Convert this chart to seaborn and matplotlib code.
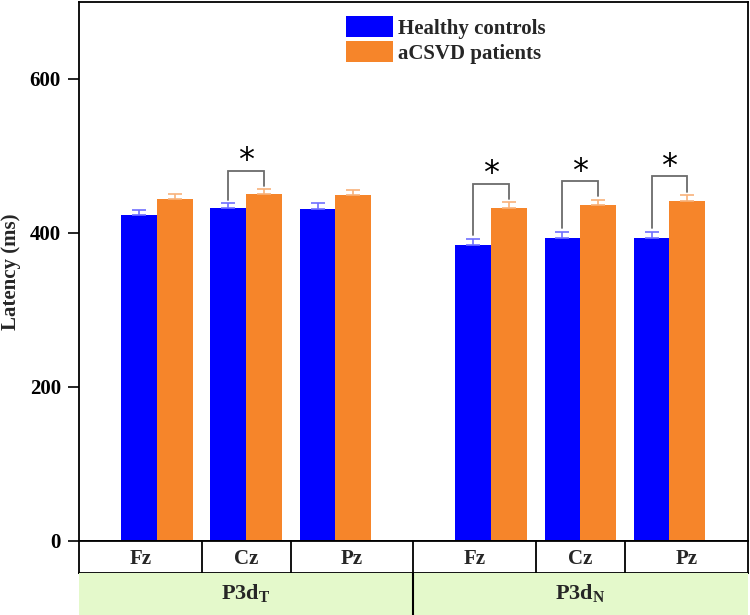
import numpy as np
import pandas as pd
import seaborn as sns
import matplotlib.pyplot as plt
from matplotlib.patches import Patch

# ---------------- data ----------------
components = ["P3d$_{\\mathrm{T}}$", "P3d$_{\\mathrm{N}}$"]
electrodes = ["Fz", "Cz", "Pz"]
groups = ["Healthy controls", "aCSVD patients"]
controls_mean = [423, 432, 431, 384, 393, 393]
controls_se = [6.5, 6.5, 7.5, 8, 8.5, 8]
patients_mean = [444, 451, 449, 432, 436, 441]
patients_se = [7, 6, 7, 8, 7.5, 8.5]
significant = [False, True, False, True, True, True]
y_ticks = [0, 200, 400, 600]

# ---------------- style ----------------
sns.set_theme(style="white")
plt.rcParams['font.family'] = ['Liberation Serif', 'DejaVu Serif']
plt.rcParams['font.weight'] = 'bold'
plt.rcParams['mathtext.fontset'] = 'custom'
plt.rcParams['mathtext.rm'] = 'Liberation Serif:bold'
plt.rcParams['mathtext.bf'] = 'Liberation Serif:bold'
plt.rcParams['mathtext.it'] = 'Liberation Serif:bold:italic'

BLUE = "#0000FF"
ORANGE = "#F6852A"
EBLUE = "#7070FF"
EORANGE = "#F8B27A"
GREEN = "#E4F9CB"

W, H = 750, 615
fig = plt.figure(figsize=(W / 100, H / 100), dpi=100)


def rect(l, t, r, b):
    return [l / W, 1 - b / H, (r - l) / W, (b - t) / H]


ax = fig.add_axes(rect(79, 2, 748, 541))
tab = fig.add_axes(rect(79, 541, 748, 573))
grn = fig.add_axes(rect(79, 573, 748, 615))

gap = 0.745
n = len(controls_mean)
pos = [i + (gap if i >= len(electrodes) else 0) for i in range(n)]

df = pd.DataFrame({
    "pos": [float(p) for p in pos] * 2,
    "latency": controls_mean + patients_mean,
    "group": [groups[0]] * n + [groups[1]] * n,
})

sns.barplot(data=df, x="pos", y="latency", hue="group", hue_order=groups,
            palette=[BLUE, ORANGE], native_scale=True, errorbar=None,
            width=0.8, linewidth=0, saturation=1, ax=ax)

xlim = (-0.874, pos[-1] + 0.881)
ax.set_xlim(*xlim)
ax.set_ylim(0, 700)

# error bars
centers = {}
for ci, (cont, se, ec) in enumerate(zip(ax.containers, [controls_se, patients_se], [EBLUE, EORANGE])):
    xs = []
    for bar, e in zip(cont, se):
        x = bar.get_x() + bar.get_width() / 2
        h = bar.get_height()
        xs.append(x)
        ax.errorbar(x, h, yerr=[[0], [e]], fmt='none', ecolor=ec,
                    elinewidth=1.2, capsize=5, capthick=1.2, zorder=3)
    centers[ci] = xs

# significance brackets
for i, sig in enumerate(significant):
    if not sig:
        continue
    xb, xo = centers[0][i], centers[1][i]
    cb = controls_mean[i] + controls_se[i]
    co = patients_mean[i] + patients_se[i]
    top = co + 24
    ax.plot([xb, xb, xo, xo], [cb + 5, top, top, co + 4], color="#6B6B6B",
            lw=1.3, zorder=4, solid_joinstyle='miter')
    ax.text((xb + xo) / 2, top + 13, "*", ha='center', va='center',
            fontsize=23, family='DejaVu Sans', fontweight='normal', color='black')

# axes styling
ax.set_xlabel("")
ax.set_xticks([])
ax.set_yticks(y_ticks)
ax.set_yticklabels([str(v) for v in y_ticks], fontsize=15, fontweight='bold')
ax.tick_params(axis='y', direction='out', length=8, width=1.2, pad=5, left=True, colors='black')
ax.set_ylabel("Latency (ms)", fontsize=15, fontweight='bold', labelpad=6)
for s in ax.spines.values():
    s.set_visible(True)
    s.set_color('black')
    s.set_linewidth(1.3)

# legend
leg = ax.get_legend()
if leg is not None:
    leg.remove()
handles = [Patch(facecolor=BLUE, edgecolor='none'), Patch(facecolor=ORANGE, edgecolor='none')]
fig.legend(handles, groups, loc='upper left', bbox_to_anchor=(346 / W, 1 - 16 / H),
           bbox_transform=fig.transFigure, frameon=False, borderpad=0, borderaxespad=0,
           handlelength=2.25, handleheight=1.2, handletextpad=0.25, labelspacing=0.1,
           prop={'family': 'Liberation Serif', 'weight': 'bold', 'size': 15})

# table row of electrodes
tab.set_xlim(*xlim)
tab.set_ylim(0, 1)
tab.set_xticks([])
tab.set_yticks([])
for s in tab.spines.values():
    s.set_visible(True)
    s.set_color('black')
    s.set_linewidth(1.3)
ne = len(electrodes)
bounds = [xlim[0]] + [(pos[i] + pos[i + 1]) / 2 for i in range(n - 1)] + [xlim[1]]
for b in bounds[1:-1]:
    tab.axvline(b, color='black', lw=1.3)
for i in range(n):
    tab.text((bounds[i] + bounds[i + 1]) / 2, 0.45, electrodes[i % ne], ha='center',
             va='center', fontsize=15, fontweight='bold')

# component row
grn.set_xlim(*xlim)
grn.set_ylim(0, 1)
grn.set_facecolor(GREEN)
grn.set_xticks([])
grn.set_yticks([])
for s in grn.spines.values():
    s.set_visible(False)
mid = bounds[ne]
grn.axvline(mid, color='black', lw=1.5)
for k, comp in enumerate(components):
    grn.text((bounds[k * ne] + bounds[(k + 1) * ne]) / 2, 0.52, comp, ha='center',
             va='center', fontsize=16, fontweight='bold')

fig.savefig("out.png", dpi=100)
